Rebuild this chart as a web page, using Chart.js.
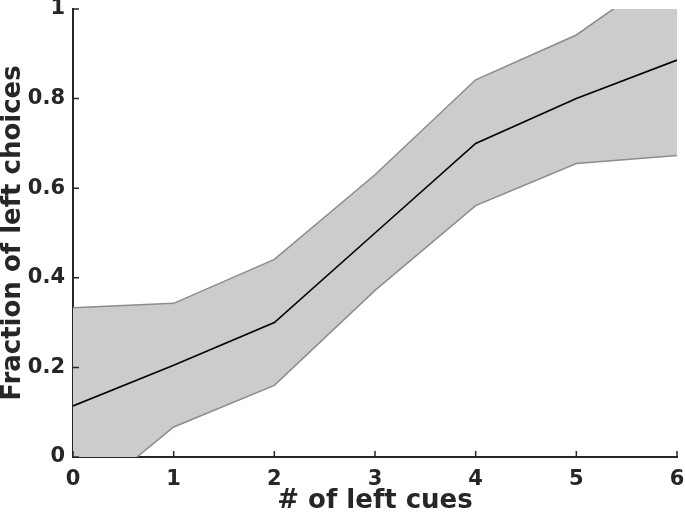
<!DOCTYPE html>
<html>
<head>
<meta charset="utf-8">
<script src="https://cdn.jsdelivr.net/npm/chart.js@4"></script>
<style>
  body { margin: 0; background: #fff; }
  canvas { display: block; }
</style>
</head>
<body>
<canvas id="psychCurve" width="685" height="514"></canvas>
<script>
const cues = [0, 1, 2, 3, 4, 5, 6];
const meanFrac  = [0.114, 0.205, 0.300, 0.500, 0.700, 0.800, 0.886];
const upperFrac = [0.333, 0.343, 0.441, 0.630, 0.842, 0.942, 1.100];
const lowerFrac = [-0.117, 0.067, 0.160, 0.372, 0.561, 0.655, 0.673];
const yTicks = [0, 0.2, 0.4, 0.6, 0.8, 1];

const axisColor = '#262626';
const toPoints = arr => cues.map((c, i) => ({ x: c, y: arr[i] }));

// MATLAB-style inward tick marks
const inwardTicks = {
    id: 'inwardTicks',
    afterDatasetsDraw(chart) {
        const { ctx, chartArea, scales } = chart;
        ctx.save();
        ctx.strokeStyle = axisColor;
        ctx.lineWidth = 1.5;
        ctx.beginPath();
        scales.x.ticks.forEach(t => {
            const px = scales.x.getPixelForValue(t.value);
            ctx.moveTo(px, chartArea.bottom);
            ctx.lineTo(px, chartArea.bottom - 6);
        });
        scales.y.ticks.forEach(t => {
            const py = scales.y.getPixelForValue(t.value);
            ctx.moveTo(chartArea.left, py);
            ctx.lineTo(chartArea.left + 6, py);
        });
        ctx.stroke();
        ctx.restore();
    }
};

new Chart(document.getElementById('psychCurve').getContext('2d'), {
    type: 'line',
    data: {
        datasets: [
            {
                label: 'mean',
                data: toPoints(meanFrac),
                borderColor: '#000000',
                borderWidth: 1.6,
                pointRadius: 0,
                fill: false,
                order: 0
            },
            {
                label: 'lower',
                data: toPoints(lowerFrac),
                borderColor: '#8c8c8c',
                borderWidth: 1.5,
                pointRadius: 0,
                fill: false,
                order: 1
            },
            {
                label: 'upper',
                data: toPoints(upperFrac),
                borderColor: '#8c8c8c',
                borderWidth: 1.5,
                pointRadius: 0,
                backgroundColor: '#cccccc',
                fill: 1,
                order: 2
            }
        ]
    },
    options: {
        responsive: false,
        animation: false,
        layout: { padding: { top: 9, right: 8, left: 0, bottom: 0 } },
        plugins: {
            legend: { display: false },
            tooltip: { enabled: false }
        },
        scales: {
            x: {
                type: 'linear',
                min: 0,
                max: 6,
                afterFit(scale) { scale.height = 57; scale.paddingRight = 0; scale.paddingLeft = 0; },
                ticks: {
                    stepSize: 1,
                    color: axisColor,
                    padding: 10,
                    font: { family: 'DejaVu Sans', weight: 'bold', size: 21 }
                },
                grid: { display: true, drawOnChartArea: false, drawTicks: false },
                border: { display: true, color: axisColor, width: 2 },
                title: {
                    display: true,
                    text: '# of left cues',
                    color: axisColor,
                    padding: { top: 0, bottom: 0 },
                    font: { family: 'DejaVu Sans', weight: 'bold', size: 26, lineHeight: 1 }
                }
            },
            y: {
                type: 'linear',
                min: 0,
                max: 1,
                afterFit(scale) { scale.width = 73; scale.paddingTop = 0; scale.paddingBottom = 0; },
                afterBuildTicks(scale) { scale.ticks = yTicks.map(v => ({ value: v })); },
                ticks: {
                    color: axisColor,
                    padding: 8,
                    font: { family: 'DejaVu Sans', weight: 'bold', size: 21 },
                    callback: v => (v === 0 || v === 1) ? String(v) : v.toFixed(1)
                },
                grid: { display: true, drawOnChartArea: false, drawTicks: false },
                border: { display: true, color: axisColor, width: 2 },
                title: {
                    display: true,
                    text: 'Fraction of left choices',
                    color: axisColor,
                    padding: { top: 0, bottom: 0 },
                    font: { family: 'DejaVu Sans', weight: 'bold', size: 26, lineHeight: 1 }
                }
            }
        }
    },
    plugins: [inwardTicks]
});
</script>
</body>
</html>
